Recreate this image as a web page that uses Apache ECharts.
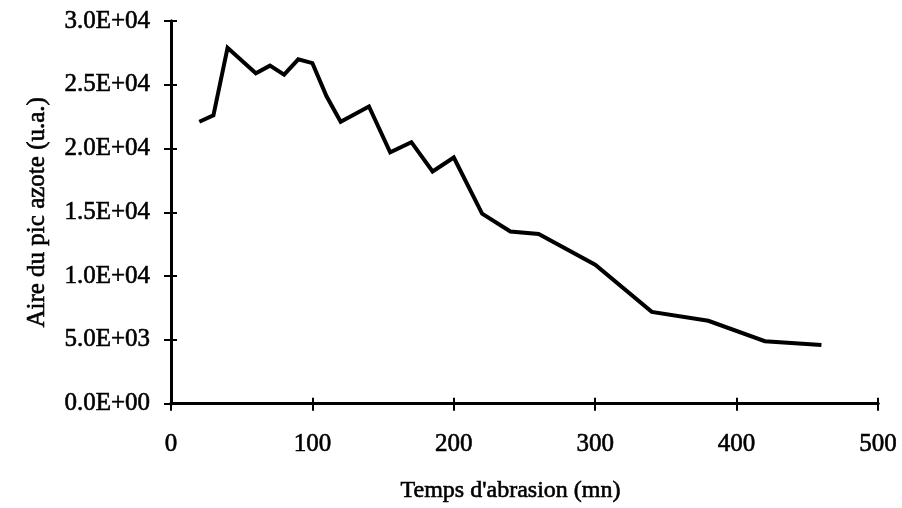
<!DOCTYPE html>
<html>
<head>
<meta charset="utf-8">
<script src="https://cdn.jsdelivr.net/npm/echarts@6/dist/echarts.min.js"></script>
<style>
  html, body { margin: 0; padding: 0; background: #ffffff; }
  #chart { width: 902px; height: 508px; }
</style>
</head>
<body>
<div id="chart"></div>
<script>
// Abrasion time (min) and nitrogen peak area (a.u.)
const temps = [20, 30, 40, 60, 70, 80, 90, 100, 110, 120, 140, 155, 170, 185, 200, 220, 240, 260, 300, 340, 380, 420, 460];
const aire = [22100, 22600, 27900, 25900, 26500, 25800, 27000, 26700, 24100, 22100, 23300, 19700, 20500, 18200, 19300, 14900, 13500, 13300, 10900, 7200, 6500, 4900, 4600];
const xTitle = "Temps d'abrasion (mn)";
const yTitle = 'Aire du pic azote (u.a.)';

const serif = '"Liberation Serif", "DejaVu Serif", serif';

function sci(v) {
  if (v === 0) return '0.0E+00';
  const e = Math.floor(Math.log10(v));
  const m = (v / Math.pow(10, e)).toFixed(1);
  return m + 'E+' + String(e).padStart(2, '0');
}

const chart = echarts.init(document.getElementById('chart'), null, { renderer: 'canvas' });

const axisLine = { show: true, lineStyle: { color: '#000', width: 3 } };
// regular serif, slightly thickened with a thin outline
const textBase = { color: '#000', fontFamily: serif, textBorderColor: '#000', textBorderWidth: 0.6 };

chart.setOption({
  animation: false,
  backgroundColor: '#ffffff',
  grid: { left: 171, right: 24, top: 21, bottom: 101 },
  xAxis: [
    {
      type: 'value', min: 0, max: 500, interval: 100,
      axisLine: axisLine,
      axisTick: { show: true, length: 7, lineStyle: { color: '#000', width: 2 } },
      axisLabel: Object.assign({ margin: 28, fontSize: 25 }, textBase),
      splitLine: { show: false },
      name: xTitle, nameLocation: 'middle', nameGap: 75,
      nameTextStyle: Object.assign({ fontSize: 24, padding: [0, 28, 0, 0] }, textBase)
    },
    {
      type: 'value', min: 0, max: 500, interval: 100, position: 'bottom',
      axisLine: axisLine,
      axisTick: { show: true, inside: true, length: 6, lineStyle: { color: '#000', width: 2 } },
      axisLabel: { show: false }, splitLine: { show: false }
    }
  ],
  yAxis: [
    {
      type: 'value', min: 0, max: 30000, interval: 5000,
      axisLine: axisLine,
      axisTick: { show: true, length: 7, lineStyle: { color: '#000', width: 2 } },
      axisLabel: Object.assign({ margin: 21, fontSize: 25, formatter: sci }, textBase),
      splitLine: { show: false },
      name: yTitle, nameLocation: 'middle', nameGap: 121,
      nameTextStyle: Object.assign({ fontSize: 25 }, textBase)
    },
    {
      type: 'value', min: 0, max: 30000, interval: 5000, position: 'left',
      axisLine: axisLine,
      axisTick: { show: true, inside: true, length: 6, lineStyle: { color: '#000', width: 2 } },
      axisLabel: { show: false }, splitLine: { show: false }
    }
  ],
  series: [{
    type: 'line',
    data: temps.map((t, i) => [t, aire[i]]),
    showSymbol: false,
    lineStyle: { color: '#000', width: 4, join: 'miter' },
    itemStyle: { color: '#000' }
  }]
});
</script>
</body>
</html>
